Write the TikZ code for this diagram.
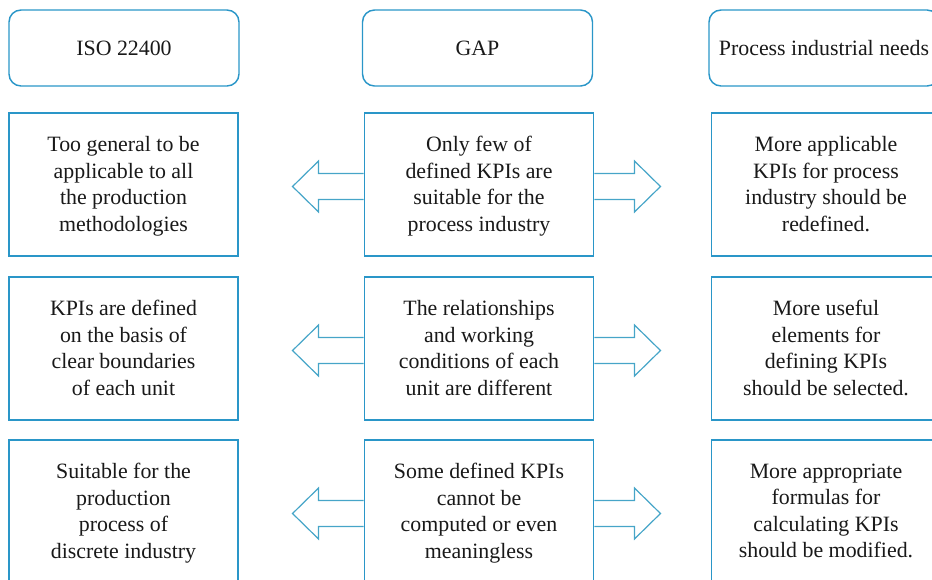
\documentclass[tikz,border=0pt]{standalone}
\usepackage{fontspec}
\setmainfont{Liberation Serif}
\usetikzlibrary{calc}
\definecolor{boxblue}{RGB}{42,150,200}
\definecolor{arrowblue}{RGB}{70,165,200}
\definecolor{txt}{RGB}{25,25,25}
\begin{document}
\begin{tikzpicture}[x=0.75pt,y=-0.75pt,
  every node/.style={text=txt, font=\fontsize{16.4}{19.9}\selectfont, inner sep=0pt, align=center},
  header/.style={draw=boxblue, line width=1.1pt, rounded corners=9pt,
    minimum width=172.5pt, minimum height=57pt},
  cell/.style={draw=boxblue, line width=1.2pt, fill=white,
    minimum width=172pt, minimum height=107.25pt},
  celltext/.style={yshift=-2.4pt, execute at begin node=\strut, execute at end node=\strut},
  hollow/.style={draw=arrowblue, line width=0.9pt, line join=miter}]
\useasboundingbox (0,0) rectangle (932,579);
\clip (0,0) rectangle (932,579);

% column headings
\node[header] (hiso) at (124,48) {ISO 22400};
\node[header] (hgap) at (477.5,48) {GAP};
\node[header] (hneed) at (824,48) {Process industrial needs};

% cell frames
\node[cell] (l1) at (123.5,184.5) {};
\node[cell] (m1) at (479,184.5) {};
\node[cell] (r1) at (826,184.5) {};
\node[cell] (l2) at (123.5,348.5) {};
\node[cell] (m2) at (479,348.5) {};
\node[cell] (r2) at (826,348.5) {};
\node[cell] (l3) at (123.5,511.5) {};
\node[cell] (m3) at (479,511.5) {};
\node[cell] (r3) at (826,511.5) {};

% cell texts
\node[celltext] (l1t) at (l1) {Too general to be\\applicable to all\\the production\\methodologies};
\node[celltext] (m1t) at (m1) {Only few of\\defined KPIs are\\suitable for the\\process industry};
\node[celltext] (r1t) at (r1) {More applicable\\KPIs for process\\industry should be\\redefined.};
\node[celltext] (l2t) at (l2) {KPIs are defined\\on the basis of\\clear boundaries\\of each unit};
\node[celltext] (m2t) at (m2) {The relationships\\and working\\conditions of each\\unit are different};
\node[celltext] (r2t) at (r2) {More useful\\elements for\\defining KPIs\\should be selected.};
\node[celltext] (l3t) at (l3) {Suitable for the\\production\\process of\\discrete industry};
\node[celltext] (m3t) at (m3) {Some defined KPIs\\cannot be\\computed or even\\meaningless};
\node[celltext] (r3t) at (r3) {More appropriate\\formulas for\\calculating KPIs\\should be modified.};

% hollow block arrows leaving each GAP cell on both sides
\foreach \m in {m1,m2,m3}{
  \draw[hollow] ($(\m.west)+(0,-11)$) -- ++(-45,0) -- ++(0,-12.5) -- ++(-26,25.5)
    -- ++(26,25.5) -- ++(0,-12.5) -- ++(45,0);
  \draw[hollow] ($(\m.east)+(0,-11)$) -- ++(40,0) -- ++(0,-12.5) -- ++(26,25.5)
    -- ++(-26,25.5) -- ++(0,-12.5) -- ++(-40,0);
}
\end{tikzpicture}
\end{document}
